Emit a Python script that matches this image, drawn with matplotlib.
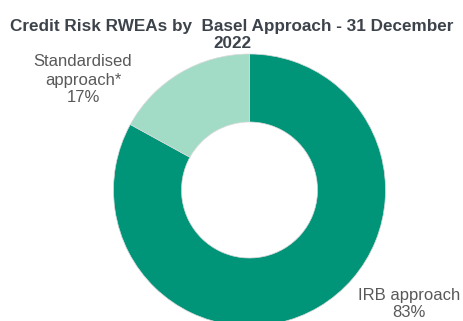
import matplotlib.pyplot as plt

# data
labels = ["IRB approach", "Standardised\napproach*"]
shares = [83, 17]
colors = ["#009479", "#a3dcc6"]

plt.rcParams['font.family'] = ['Liberation Sans', 'DejaVu Sans']

fig = plt.figure(figsize=(4.64, 3.21), dpi=100)
fig.patch.set_facecolor('white')

# donut axes (pixel-based placement)
cx, cy, r = 249.5, 321 - 190, 136
ax = fig.add_axes([(cx - r) / 464, (cy - r) / 321, 2 * r / 464, 2 * r / 321])
ax.pie(shares, colors=colors, startangle=90, counterclock=False, radius=1,
       wedgeprops=dict(width=0.5, edgecolor='#d9d9d9', linewidth=0.5))
ax.set_xlim(-1, 1)
ax.set_ylim(-1, 1)
ax.set_aspect('equal')
ax.axis('off')

fig.text(232 / 464, 1 - 35 / 321,
         "Credit Risk RWEAs by  Basel Approach - 31 December\n2022",
         ha='center', va='center', fontsize=12.3, fontweight='bold',
         color='#3d434b', linespacing=1.1)

fig.text(83 / 464, 1 - 80 / 321, labels[1] + "\n" + str(shares[1]) + "%",
         ha='center', va='center', fontsize=12, color='#595959', linespacing=1.25)
fig.text(409 / 464, 1 - 304 / 321, labels[0] + "\n" + str(shares[0]) + "%",
         ha='center', va='center', fontsize=12, color='#595959', linespacing=1.2)

fig.savefig("out.png", dpi=100, facecolor='white')
